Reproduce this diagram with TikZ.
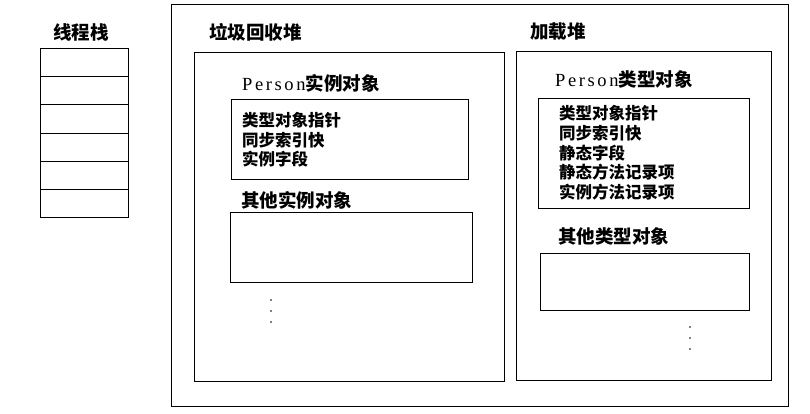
\documentclass[tikz,border=0pt]{standalone}
\usepackage{fontspec}
\setmainfont{Noto Sans CJK SC}
\newfontfamily\latinserif[LetterSpace=14]{Liberation Serif}
\tikzset{
  box/.style={draw, line width=1pt, anchor=north west, inner sep=0pt},
  heading/.style={font=\fontsize{18.5}{20}\selectfont\bfseries, inner sep=0pt},
  fieldtext/.style={font=\fontsize{16.5}{19.7}\selectfont\bfseries, align=left, inner sep=0pt, anchor=west},
}
\begin{document}
\begin{tikzpicture}[x=1pt,y=-1pt]
\useasboundingbox (0,0) rectangle (810,414);
% thread stack
\node[heading] (stacklabel) at (81,32) {线程栈};
\foreach \i in {1,...,6}
  \node[box, minimum width=88pt, minimum height=28.17pt] (row\i) at (40,{48+(\i-1)*28.17}) {};
% outer managed heap
\node[box, minimum width=617pt, minimum height=402pt] (outer) at (171,4) {};
% gc heap
\node[heading, anchor=west] (gclabel) at (209,32) {垃圾回收堆};
\node[box, minimum width=310pt, minimum height=329pt] (gcheap) at (194,52) {};
\node[heading, anchor=west] (personinst) at (242,83) {{\latinserif\mdseries Person}实例对象};
\node[box, minimum width=237pt, minimum height=80pt] (instbox) at (231,99) {};
\node[fieldtext] (instfields) at (242,140) {类型对象指针\\同步索引快\\实例字段};
\node[heading, anchor=west] (otherinst) at (241,200) {其他实例对象};
\node[box, minimum width=242pt, minimum height=70pt] (otherinstbox) at (230,212) {};
\foreach \y in {300,311,322}
  \fill (271,\y) circle (0.8pt);
% loader heap
\node[heading, anchor=west] (loadlabel) at (530,32) {加载堆};
\node[box, minimum width=255pt, minimum height=329pt] (loadheap) at (516,51) {};
\node[heading, anchor=west] (persontype) at (555,79) {{\latinserif\mdseries Person}类型对象};
\node[box, minimum width=211pt, minimum height=110pt] (typebox) at (538,98) {};
\node[fieldtext] (typefields) at (559,153) {类型对象指针\\同步索引快\\静态字段\\静态方法记录项\\实例方法记录项};
\node[heading, anchor=west] (othertype) at (558,236) {其他类型对象};
\node[box, minimum width=209pt, minimum height=57pt] (othertypebox) at (540,253) {};
\foreach \y in {327,338,349}
  \fill (690,\y) circle (0.8pt);
\end{tikzpicture}
\end{document}
